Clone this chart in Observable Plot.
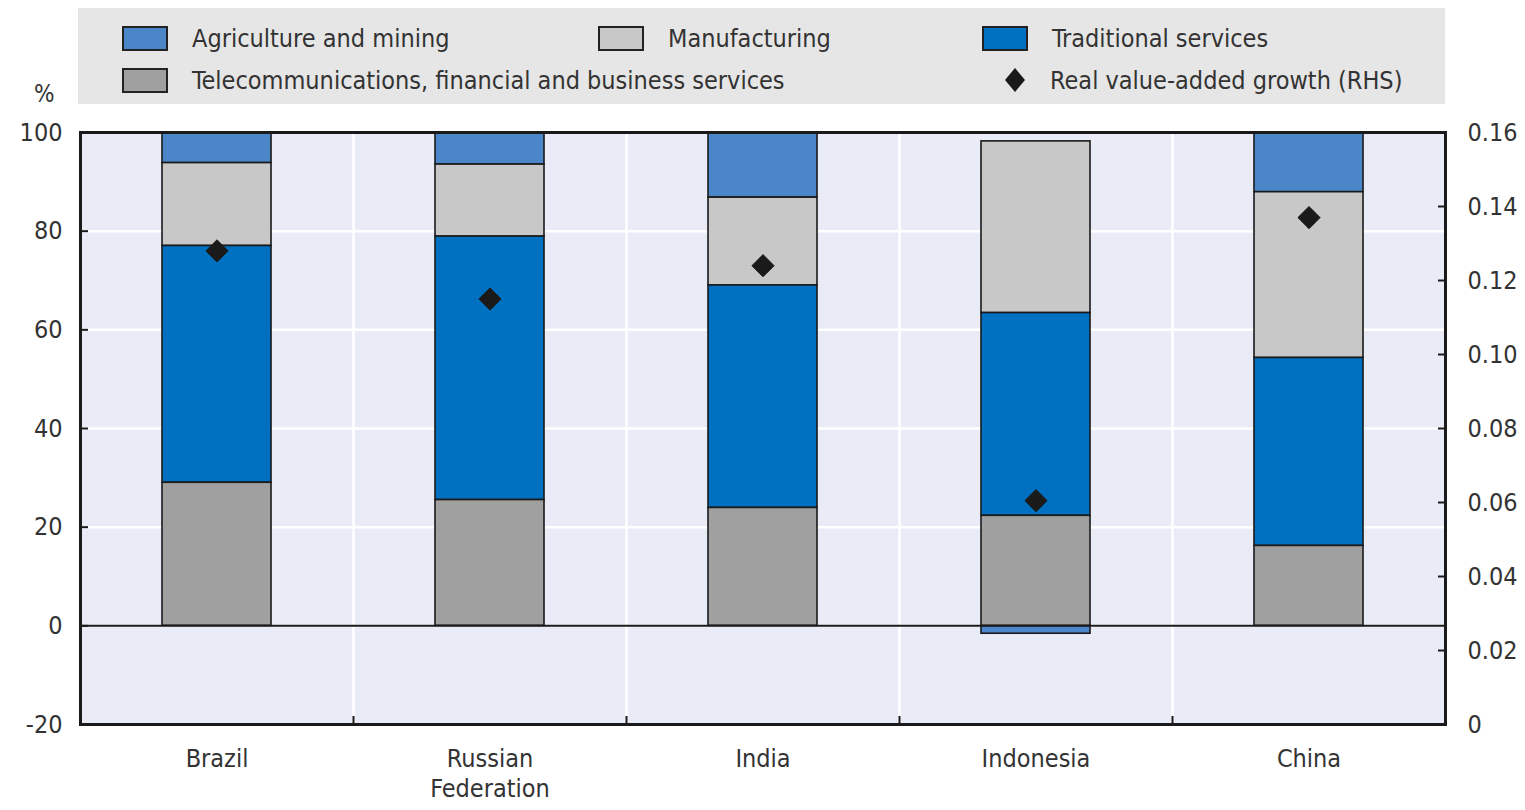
<!DOCTYPE html>
<html><head><meta charset="utf-8">
<script src="https://cdn.jsdelivr.net/npm/d3@7"></script>
<script src="https://cdn.jsdelivr.net/npm/@observablehq/plot@0.6"></script>
<style>
body{margin:0;background:#fff;font-family:"Liberation Sans Narrow","DejaVu Sans Condensed",sans-serif;color:#333;}
#legend{position:relative;width:1525px;height:104px;}
#legend .box{position:absolute;left:78px;top:8px;width:1367px;height:96px;background:#e6e6e6;}
.item{position:absolute;display:flex;align-items:center;height:30px;font-size:25px;white-space:nowrap;color:#333;}
.sw{box-sizing:border-box;width:46px;height:25px;border:2px solid #222;margin-right:24px;}
.dia{width:22px;height:26px;margin-right:24px;}
#pct{position:absolute;left:34px;top:80px;font-size:24px;color:#333;}
#chart svg{display:block;}
</style></head>
<body>
<div id="legend"><div class="box"></div><span id="pct">%</span></div>
<div id="chart"></div>
<script>
const countries = ["Brazil", "Russian Federation", "India", "Indonesia", "China"];
const sectors = ["Agriculture and mining", "Manufacturing", "Traditional services", "Telecommunications, financial and business services"];
const sectorColors = ["#4a86c8", "#c8c8c8", "#0070c0", "#a0a0a0"];
const agriShare = [6.2, 6.5, 13.2, -1.6, 12.1];
const manufShare = [16.8, 14.6, 17.8, 34.8, 33.6];
const tradShare = [48.0, 53.4, 45.1, 41.1, 38.1];
const teleShare = [29.0, 25.5, 23.9, 22.3, 16.2];
const growth = [0.128, 0.115, 0.124, 0.0605, 0.137];
const growthLabel = "Real value-added growth (RHS)";
const lhsTicks = [-20, 0, 20, 40, 60, 80, 100];
const rhsTicks = [0, 0.02, 0.04, 0.06, 0.08, 0.10, 0.12, 0.14, 0.16];

const shares = [agriShare, manufShare, tradShare, teleShare];
const rows = [];
countries.forEach((c, i) => sectors.forEach((s, k) => rows.push({country: c, sector: s, value: shares[k][i]})));
const stackOrder = [sectors[3], sectors[2], sectors[1], sectors[0]];
const toLeft = g => -20 + g / 0.16 * 120;
const rhsMap = new Map(rhsTicks.map(t => [toLeft(t), t === 0 ? "0" : t.toFixed(2)]));
const rhsPos = rhsTicks.map(toLeft);
const growthRows = countries.map((c, i) => ({country: c, y: toLeft(growth[i])}));

// legend
const legend = document.getElementById("legend");
const legendPos = [[122, 38], [598, 38], [982, 38], [122, 80]];
sectors.forEach((s, k) => {
  const it = document.createElement("div");
  it.className = "item";
  it.style.left = legendPos[k][0] + "px";
  it.style.top = (legendPos[k][1] - 15) + "px";
  it.innerHTML = `<div class="sw" style="background:${sectorColors[k]}"></div><span>${s}</span>`;
  legend.appendChild(it);
});
const gi = document.createElement("div");
gi.className = "item";
gi.style.left = "1004px";
gi.style.top = "65px";
gi.innerHTML = `<svg class="dia" viewBox="0 0 22 26"><path d="M11 1 L21 13 L11 25 L1 13 Z" fill="#1a1a1a"/></svg><span>${growthLabel}</span>`;
legend.appendChild(gi);

const font = '"Liberation Sans Narrow","DejaVu Sans Condensed",sans-serif';
const plot = Plot.plot({
  width: 1525, height: 706,
  marginLeft: 80, marginRight: 80, marginTop: 28, marginBottom: 86,
  style: {fontFamily: font, fontSize: "25px", color: "#333", background: "transparent"},
  x: {domain: countries, paddingInner: 0.6, paddingOuter: 0.3, label: null},
  y: {domain: [-20, 100], label: null},
  color: {domain: sectors, range: sectorColors},
  marks: [
    Plot.frame({fill: "#e9ecf6"}),
    Plot.gridY(lhsTicks, {stroke: "#fff", strokeOpacity: 1, strokeWidth: 2.5}),
    Plot.gridX(countries, {stroke: "#fff", strokeOpacity: 1, strokeWidth: 2.5, dx: 136.5}),
    Plot.barY(rows, {x: "country", y: "value", fill: "sector", stroke: "#1a1a1a", strokeWidth: 1.6, order: stackOrder}),
    Plot.ruleY([0], {stroke: "#1a1a1a", strokeWidth: 2}),
    Plot.dot(growthRows, {x: "country", y: "y", symbol: "diamond2", r: 10, fill: "#1a1a1a", stroke: "#1a1a1a", strokeWidth: 1}),
    Plot.axisY(lhsTicks, {anchor: "left", tickSize: 0, tickPadding: 18, fontSize: 25, tickFormat: d => String(d)}),
    Plot.axisY(lhsTicks, {anchor: "left", text: null, tickSize: 8, dx: 8, stroke: "#1a1a1a", strokeWidth: 2}),
    Plot.axisY(rhsPos, {anchor: "right", tickSize: 0, tickPadding: 22, fontSize: 25, tickFormat: d => rhsMap.get(d)}),
    Plot.axisY(rhsPos, {anchor: "right", text: null, tickSize: 8, dx: -8, stroke: "#1a1a1a", strokeWidth: 2}),
    Plot.axisX(countries, {anchor: "bottom", tickSize: 0, tickPadding: 21, fontSize: 25, lineHeight: 1.2, tickFormat: d => d.replace(" ", "\n")}),
    Plot.axisX(countries, {anchor: "bottom", text: null, tickSize: 8, dy: -8, dx: 136.5, stroke: "#1a1a1a", strokeWidth: 2}),
    Plot.frame({stroke: "#1a1a1a", strokeWidth: 3})
  ]
});
document.getElementById("chart").appendChild(plot);
</script>
</body></html>
